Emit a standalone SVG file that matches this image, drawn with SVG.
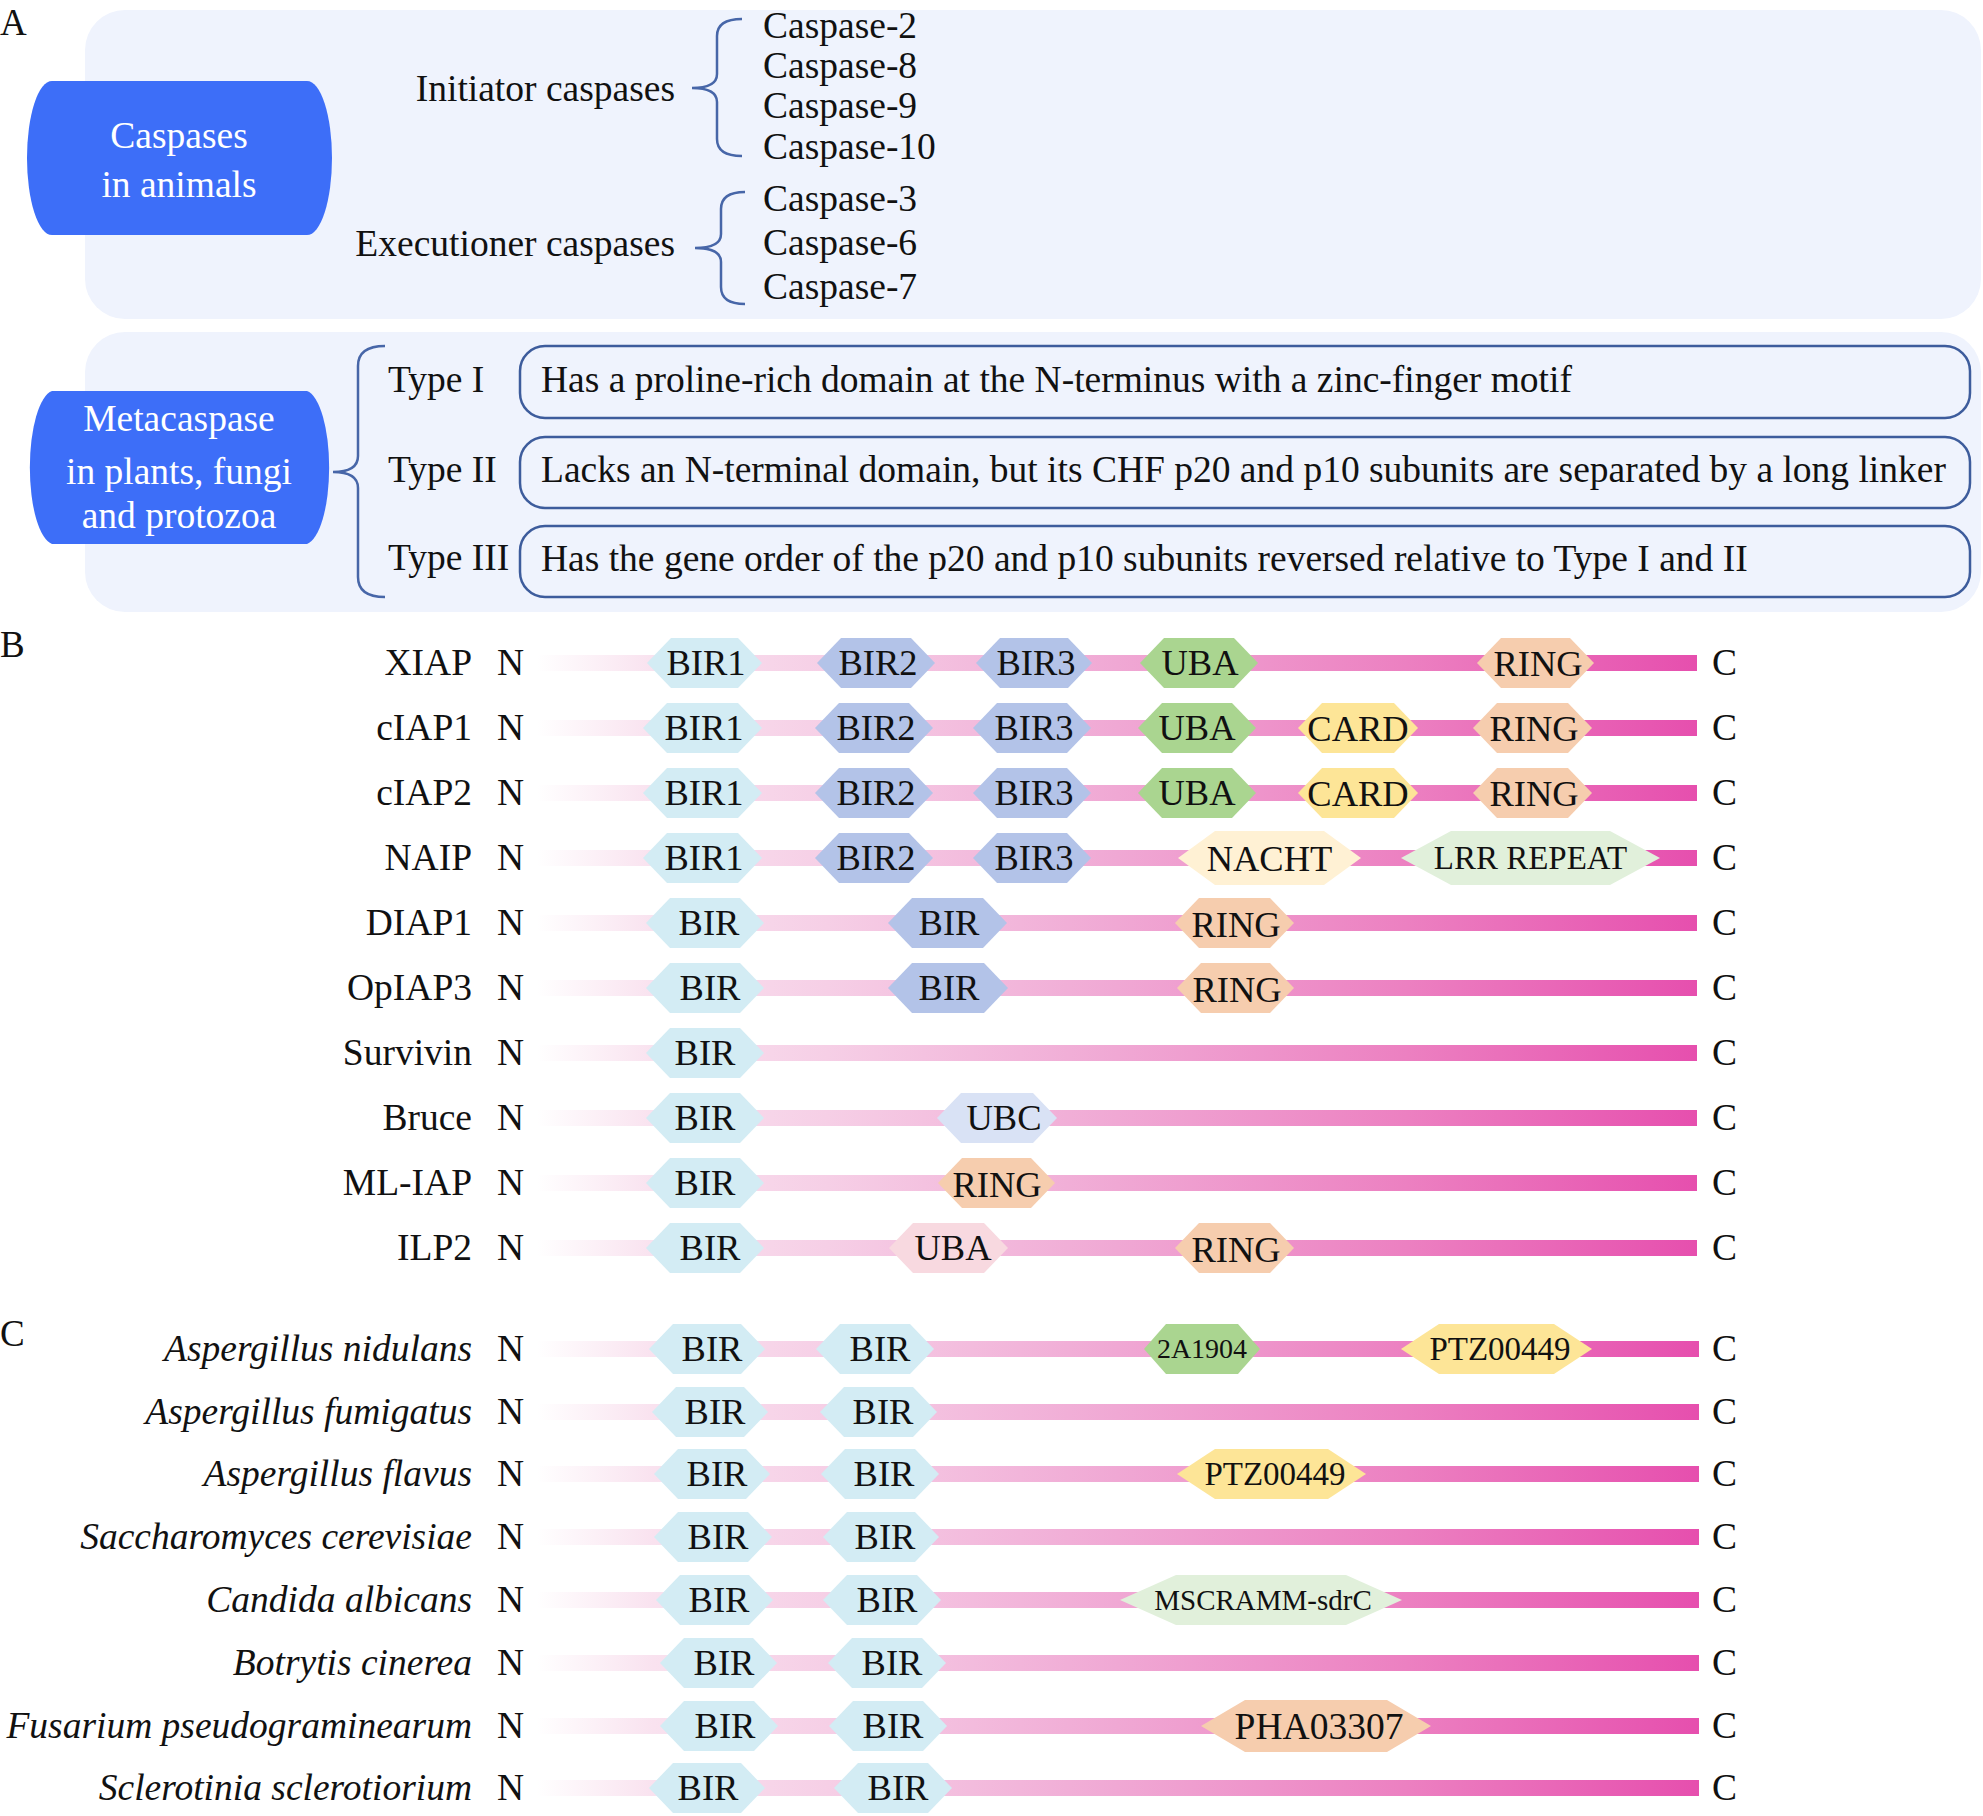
<svg xmlns="http://www.w3.org/2000/svg" width="1983" height="1816" viewBox="0 0 1983 1816">
<defs>
<linearGradient id="bar" gradientUnits="userSpaceOnUse" x1="537" y1="0" x2="1697" y2="0">
<stop offset="0" stop-color="#FFFFFF"/>
<stop offset="0.1" stop-color="#F9E2EF"/>
<stop offset="0.25" stop-color="#F6CFE6"/>
<stop offset="0.5" stop-color="#F0A8D4"/>
<stop offset="0.75" stop-color="#EC80C1"/>
<stop offset="1" stop-color="#E64FAE"/>
</linearGradient>
<style>
.t{font-family:"Liberation Serif","Times New Roman",serif;font-size:37.5px;fill:#111}
.w{fill:#fff}
.i{font-style:italic}
.e{text-anchor:end}
.m{text-anchor:middle;font-size:36.5px}
.nt{text-anchor:middle}
.lbl{font-size:37px}
.bg{fill:#EFF3FD}
.nd{fill:#3D6EF8}
.br{fill:none;stroke:#4766A8;stroke-width:2.5}
.bx{fill:none;stroke:#3D5C9C;stroke-width:2.5}
.bar{fill:url(#bar)}
.cy{fill:#D3ECF4}
.pw{fill:#B3C3E8}
.gr{fill:#AAD590}
.pe{fill:#F6CDAE}
.ye{fill:#FDE597}
.cr{fill:#FFF1D4}
.lg{fill:#E1F0DB}
.lv{fill:#D9E2F5}
.pk{fill:#F8D9E0}
</style>
</defs>
<rect width="1983" height="1816" fill="#fff"/>

<!-- Panel A -->
<text class="t lbl" x="0" y="35">A</text>
<rect class="bg" x="85" y="10" width="1896" height="309" rx="40"/>
<rect class="bg" x="85" y="332" width="1896" height="280" rx="40"/>

<g id="node-caspases">
<path class="nd" d="M52,81 H307 A25,77 0 0 1 307,235 H52 A25,77 0 0 1 52,81 Z"/>
<text class="t w nt" x="179" y="148">Caspases</text>
<text class="t w nt" x="179" y="197">in animals</text>
</g>
<g id="node-initiator">
<text class="t e" x="675" y="101">Initiator caspases</text>
<text class="t" x="763" y="38">Caspase-2</text>
<text class="t" x="763" y="78">Caspase-8</text>
<text class="t" x="763" y="118">Caspase-9</text>
<text class="t" x="763" y="159">Caspase-10</text>
</g>
<g id="node-executioner">
<text class="t e" x="675" y="256">Executioner caspases</text>
<text class="t" x="763" y="211">Caspase-3</text>
<text class="t" x="763" y="255">Caspase-6</text>
<text class="t" x="763" y="299">Caspase-7</text>
</g>

<g id="node-metacaspase">
<path class="nd" d="M52,391 H307 A25,77 0 0 1 307,544 H52 A25,77 0 0 1 52,391 Z"/>
<text class="t w nt" x="179" y="431">Metacaspase</text>
<text class="t w nt" x="179" y="484">in plants, fungi</text>
<text class="t w nt" x="179" y="528">and protozoa</text>
</g>
<g id="node-type1">
<text class="t" x="388" y="392">Type I</text>
<rect class="bx" x="520" y="346" width="1450" height="72" rx="25"/>
<text class="t" x="541" y="392">Has a proline-rich domain at the N-terminus with a zinc-finger motif</text>
</g>
<g id="node-type2">
<text class="t" x="388" y="482">Type II</text>
<rect class="bx" x="520" y="437" width="1450" height="71" rx="25"/>
<text class="t" x="541" y="482">Lacks an N-terminal domain, but its CHF p20 and p10 subunits are separated by a long linker</text>
</g>
<g id="node-type3">
<text class="t" x="388" y="570">Type III</text>
<rect class="bx" x="520" y="526" width="1450" height="71" rx="25"/>
<text class="t" x="541" y="571">Has the gene order of the p20 and p10 subunits reversed relative to Type I and II</text>
</g>

<g id="connectors">
<path class="br" d="M742,19 Q717,19 717,36 V74 Q717,88 692,88 Q717,88 717,102 V139 Q717,156 742,156"/>
<path class="br" d="M745,192 Q721,192 721,209 V234 Q721,248 695,248 Q721,248 721,262 V287 Q721,304 745,304"/>
<path class="br" d="M385,346 Q358,346 358,366 V456 Q358,472 333,472 Q358,472 358,488 V577 Q358,597 385,597"/>
</g>

<!-- Panel B -->
<text class="t lbl" x="0" y="657">B</text>

<g id="row-XIAP">
<text class="t e" x="472" y="675">XIAP</text><text class="t" x="497" y="675">N</text>
<rect class="bar" x="537" y="655" width="1160" height="16"/>
<polygon class="cy" points="647,663 671,638 738,638 762,663 738,688 671,688"/><text class="t m" x="706" y="675">BIR1</text>
<polygon class="pw" points="817,663 841,638 911,638 935,663 911,688 841,688"/><text class="t m" x="878" y="675">BIR2</text>
<polygon class="pw" points="976,663 1000,638 1068,638 1092,663 1068,688 1000,688"/><text class="t m" x="1036" y="675">BIR3</text>
<polygon class="gr" points="1140,663 1164,638 1234,638 1258,663 1234,688 1164,688"/><text class="t m" x="1200" y="675">UBA</text>
<polygon class="pe" points="1477,663 1501,638 1570,638 1594,663 1570,688 1501,688"/><text class="t m" x="1538" y="676">RING</text>
<text class="t" x="1712" y="675">C</text>
</g>

<g id="row-cIAP1">
<text class="t e" x="472" y="740">cIAP1</text><text class="t" x="497" y="740">N</text>
<rect class="bar" x="537" y="720" width="1160" height="16"/>
<polygon class="cy" points="643,728 667,703 738,703 762,728 738,753 667,753"/><text class="t m" x="704" y="740">BIR1</text>
<polygon class="pw" points="815,728 839,703 909,703 933,728 909,753 839,753"/><text class="t m" x="876" y="740">BIR2</text>
<polygon class="pw" points="973,728 997,703 1067,703 1091,728 1067,753 997,753"/><text class="t m" x="1034" y="740">BIR3</text>
<polygon class="gr" points="1138,728 1162,703 1232,703 1256,728 1232,753 1162,753"/><text class="t m" x="1197" y="740">UBA</text>
<polygon class="ye" points="1298,728 1322,703 1394,703 1418,728 1394,753 1322,753"/><text class="t m" x="1358" y="741">CARD</text>
<polygon class="pe" points="1473,728 1497,703 1568,703 1592,728 1568,753 1497,753"/><text class="t m" x="1534" y="741">RING</text>
<text class="t" x="1712" y="740">C</text>
</g>

<g id="row-cIAP2">
<text class="t e" x="472" y="805">cIAP2</text><text class="t" x="497" y="805">N</text>
<rect class="bar" x="537" y="785" width="1160" height="16"/>
<polygon class="cy" points="643,793 667,768 738,768 762,793 738,818 667,818"/><text class="t m" x="704" y="805">BIR1</text>
<polygon class="pw" points="815,793 839,768 909,768 933,793 909,818 839,818"/><text class="t m" x="876" y="805">BIR2</text>
<polygon class="pw" points="973,793 997,768 1067,768 1091,793 1067,818 997,818"/><text class="t m" x="1034" y="805">BIR3</text>
<polygon class="gr" points="1138,793 1162,768 1232,768 1256,793 1232,818 1162,818"/><text class="t m" x="1197" y="805">UBA</text>
<polygon class="ye" points="1298,793 1322,768 1394,768 1418,793 1394,818 1322,818"/><text class="t m" x="1358" y="806">CARD</text>
<polygon class="pe" points="1473,793 1497,768 1568,768 1592,793 1568,818 1497,818"/><text class="t m" x="1534" y="806">RING</text>
<text class="t" x="1712" y="805">C</text>
</g>

<g id="row-NAIP">
<text class="t e" x="472" y="870">NAIP</text><text class="t" x="497" y="870">N</text>
<rect class="bar" x="537" y="850" width="1160" height="16"/>
<polygon class="cy" points="643,858 667,833 738,833 762,858 738,883 667,883"/><text class="t m" x="704" y="870">BIR1</text>
<polygon class="pw" points="815,858 839,833 909,833 933,858 909,883 839,883"/><text class="t m" x="876" y="870">BIR2</text>
<polygon class="pw" points="973,858 997,833 1067,833 1091,858 1067,883 997,883"/><text class="t m" x="1034" y="870">BIR3</text>
<polygon class="cr" points="1178,858 1215,831 1324,831 1361,858 1324,885 1215,885"/><text class="t m" x="1269.5" y="871">NACHT</text>
<polygon class="lg" points="1401,858 1451,831 1610,831 1660,858 1610,885 1451,885"/><text class="t m" x="1530.5" y="869" style="font-size:33px">LRR REPEAT</text>
<text class="t" x="1712" y="870">C</text>
</g>

<g id="row-DIAP1">
<text class="t e" x="472" y="935">DIAP1</text><text class="t" x="497" y="935">N</text>
<rect class="bar" x="537" y="915" width="1160" height="16"/>
<polygon class="cy" points="646,923 670,898 740,898 764,923 740,948 670,948"/><text class="t m" x="709" y="935">BIR</text>
<polygon class="pw" points="888,923 912,898 983,898 1007,923 983,948 912,948"/><text class="t m" x="949" y="935">BIR</text>
<polygon class="pe" points="1175,923 1199,898 1270,898 1294,923 1270,948 1199,948"/><text class="t m" x="1236" y="937">RING</text>
<text class="t" x="1712" y="935">C</text>
</g>

<g id="row-OpIAP3">
<text class="t e" x="472" y="1000">OpIAP3</text><text class="t" x="497" y="1000">N</text>
<rect class="bar" x="537" y="980" width="1160" height="16"/>
<polygon class="cy" points="646,988 670,963 740,963 764,988 740,1013 670,1013"/><text class="t m" x="710" y="1000">BIR</text>
<polygon class="pw" points="888,988 912,963 984,963 1008,988 984,1013 912,1013"/><text class="t m" x="949" y="1000">BIR</text>
<polygon class="pe" points="1177,988 1201,963 1270,963 1294,988 1270,1013 1201,1013"/><text class="t m" x="1237" y="1002">RING</text>
<text class="t" x="1712" y="1000">C</text>
</g>

<g id="row-Survivin">
<text class="t e" x="472" y="1065">Survivin</text><text class="t" x="497" y="1065">N</text>
<rect class="bar" x="537" y="1045" width="1160" height="16"/>
<polygon class="cy" points="646,1053 670,1028 740,1028 764,1053 740,1078 670,1078"/><text class="t m" x="705" y="1065">BIR</text>
<text class="t" x="1712" y="1065">C</text>
</g>

<g id="row-Bruce">
<text class="t e" x="472" y="1130">Bruce</text><text class="t" x="497" y="1130">N</text>
<rect class="bar" x="537" y="1110" width="1160" height="16"/>
<polygon class="cy" points="646,1118 670,1093 740,1093 764,1118 740,1143 670,1143"/><text class="t m" x="705" y="1130">BIR</text>
<polygon class="lv" points="937,1118 961,1093 1033,1093 1057,1118 1033,1143 961,1143"/><text class="t m" x="1004" y="1130">UBC</text>
<text class="t" x="1712" y="1130">C</text>
</g>

<g id="row-ML-IAP">
<text class="t e" x="472" y="1195">ML-IAP</text><text class="t" x="497" y="1195">N</text>
<rect class="bar" x="537" y="1175" width="1160" height="16"/>
<polygon class="cy" points="646,1183 670,1158 740,1158 764,1183 740,1208 670,1208"/><text class="t m" x="705" y="1195">BIR</text>
<polygon class="pe" points="938,1183 962,1158 1031,1158 1055,1183 1031,1208 962,1208"/><text class="t m" x="997" y="1197">RING</text>
<text class="t" x="1712" y="1195">C</text>
</g>

<g id="row-ILP2">
<text class="t e" x="472" y="1260">ILP2</text><text class="t" x="497" y="1260">N</text>
<rect class="bar" x="537" y="1240" width="1160" height="16"/>
<polygon class="cy" points="646,1248 670,1223 740,1223 764,1248 740,1273 670,1273"/><text class="t m" x="710" y="1260">BIR</text>
<polygon class="pk" points="889,1248 913,1223 984,1223 1008,1248 984,1273 913,1273"/><text class="t m" x="953" y="1260">UBA</text>
<polygon class="pe" points="1175,1248 1199,1223 1270,1223 1294,1248 1270,1273 1199,1273"/><text class="t m" x="1236" y="1262">RING</text>
<text class="t" x="1712" y="1260">C</text>
</g>

<!-- Panel C -->
<text class="t lbl" x="0" y="1346">C</text>

<g id="row-A-nidulans">
<text class="t e i" x="472" y="1361">Aspergillus nidulans</text><text class="t" x="497" y="1361">N</text>
<rect class="bar" x="537" y="1341" width="1162" height="16"/>
<polygon class="cy" points="649,1349 673,1324 741,1324 765,1349 741,1374 673,1374"/><text class="t m" x="712" y="1361">BIR</text>
<polygon class="cy" points="816,1349 840,1324 910,1324 934,1349 910,1374 840,1374"/><text class="t m" x="880" y="1361">BIR</text>
<polygon class="gr" points="1144,1349 1166,1324 1238,1324 1260,1349 1238,1374 1166,1374"/><text class="t m" x="1202" y="1358" style="font-size:28px">2A1904</text>
<polygon class="ye" points="1401,1349 1439,1324 1554,1324 1592,1349 1554,1374 1439,1374"/><text class="t m" x="1500" y="1360" style="font-size:33px">PTZ00449</text>
<text class="t" x="1712" y="1361">C</text>
</g>

<g id="row-A-fumigatus">
<text class="t e i" x="472" y="1424">Aspergillus fumigatus</text><text class="t" x="497" y="1424">N</text>
<rect class="bar" x="537" y="1404" width="1162" height="16"/>
<polygon class="cy" points="652,1412 676,1387 744,1387 768,1412 744,1437 676,1437"/><text class="t m" x="715" y="1424">BIR</text>
<polygon class="cy" points="820,1412 844,1387 913,1387 937,1412 913,1437 844,1437"/><text class="t m" x="883" y="1424">BIR</text>
<text class="t" x="1712" y="1424">C</text>
</g>

<g id="row-A-flavus">
<text class="t e i" x="472" y="1486">Aspergillus flavus</text><text class="t" x="497" y="1486">N</text>
<rect class="bar" x="537" y="1466" width="1162" height="16"/>
<polygon class="cy" points="654,1474 678,1449 746,1449 770,1474 746,1499 678,1499"/><text class="t m" x="717" y="1486">BIR</text>
<polygon class="cy" points="821,1474 845,1449 915,1449 939,1474 915,1499 845,1499"/><text class="t m" x="884" y="1486">BIR</text>
<polygon class="ye" points="1177,1474 1215,1449 1328,1449 1366,1474 1328,1499 1215,1499"/><text class="t m" x="1275" y="1485" style="font-size:33px">PTZ00449</text>
<text class="t" x="1712" y="1486">C</text>
</g>

<g id="row-S-cerevisiae">
<text class="t e i" x="472" y="1549">Saccharomyces cerevisiae</text><text class="t" x="497" y="1549">N</text>
<rect class="bar" x="537" y="1529" width="1162" height="16"/>
<polygon class="cy" points="654,1537 678,1512 748,1512 772,1537 748,1562 678,1562"/><text class="t m" x="718" y="1549">BIR</text>
<polygon class="cy" points="823,1537 847,1512 915,1512 939,1537 915,1562 847,1562"/><text class="t m" x="885" y="1549">BIR</text>
<text class="t" x="1712" y="1549">C</text>
</g>

<g id="row-C-albicans">
<text class="t e i" x="472" y="1612">Candida albicans</text><text class="t" x="497" y="1612">N</text>
<rect class="bar" x="537" y="1592" width="1162" height="16"/>
<polygon class="cy" points="656,1600 680,1575 749,1575 773,1600 749,1625 680,1625"/><text class="t m" x="719" y="1612">BIR</text>
<polygon class="cy" points="823,1600 847,1575 917,1575 941,1600 917,1625 847,1625"/><text class="t m" x="887" y="1612">BIR</text>
<polygon class="lg" points="1120,1600 1176,1575 1346,1575 1402,1600 1346,1625 1176,1625"/><text class="t m" x="1263" y="1610" style="font-size:29px">MSCRAMM-sdrC</text>
<text class="t" x="1712" y="1612">C</text>
</g>

<g id="row-B-cinerea">
<text class="t e i" x="472" y="1675">Botrytis cinerea</text><text class="t" x="497" y="1675">N</text>
<rect class="bar" x="537" y="1655" width="1162" height="16"/>
<polygon class="cy" points="660,1663 684,1638 753,1638 777,1663 753,1688 684,1688"/><text class="t m" x="724" y="1675">BIR</text>
<polygon class="cy" points="828,1663 852,1638 922,1638 946,1663 922,1688 852,1688"/><text class="t m" x="892" y="1675">BIR</text>
<text class="t" x="1712" y="1675">C</text>
</g>

<g id="row-F-pseudograminearum">
<text class="t e i" x="472" y="1738">Fusarium pseudograminearum</text><text class="t" x="497" y="1738">N</text>
<rect class="bar" x="537" y="1718" width="1162" height="16"/>
<polygon class="cy" points="660,1726 684,1701 754,1701 778,1726 754,1751 684,1751"/><text class="t m" x="725" y="1738">BIR</text>
<polygon class="cy" points="829,1726 853,1701 923,1701 947,1726 923,1751 853,1751"/><text class="t m" x="893" y="1738">BIR</text>
<polygon class="pe" points="1201,1726 1245,1700 1387,1700 1431,1726 1387,1752 1245,1752"/><text class="t m" x="1319" y="1739" style="font-size:37.5px">PHA03307</text>
<text class="t" x="1712" y="1738">C</text>
</g>

<g id="row-S-sclerotiorium">
<text class="t e i" x="472" y="1800">Sclerotinia sclerotiorium</text><text class="t" x="497" y="1800">N</text>
<rect class="bar" x="537" y="1780" width="1162" height="16"/>
<polygon class="cy" points="649,1788 673,1763 741,1763 765,1788 741,1813 673,1813"/><text class="t m" x="708" y="1800">BIR</text>
<polygon class="cy" points="834,1788 858,1763 928,1763 952,1788 928,1813 858,1813"/><text class="t m" x="898" y="1800">BIR</text>
<text class="t" x="1712" y="1800">C</text>
</g>
</svg>
